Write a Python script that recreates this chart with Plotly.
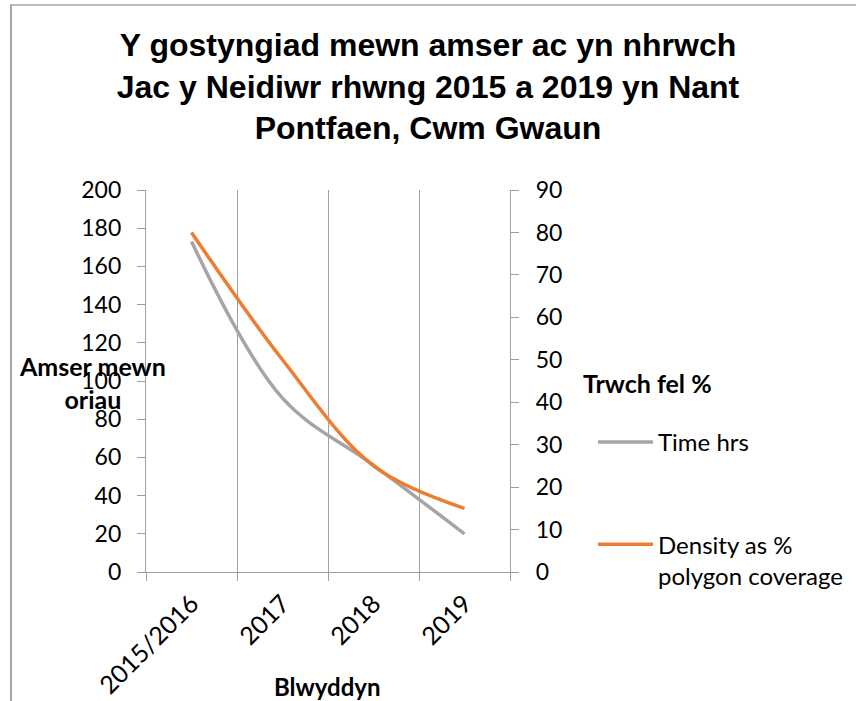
import plotly.graph_objects as go

categories = ["2015/2016", "2017", "2018", "2019"]
time_hrs = [173, 91, 56, 20]
density_pct = [80, 50, 25, 15]

title_text = "Y gostyngiad mewn amser ac yn nhrwch<br>Jac y Neidiwr rhwng 2015 a 2019 yn Nant<br>Pontfaen, Cwm Gwaun"
series_names = ["Time hrs", "Density as %<br>polygon coverage"]

W, H = 856, 701
L, R, T, B = 146, 346, 190, 129
pw, ph = W - L - R, H - T - B

def px(x):
    return (x - L) / pw

def py(y):
    return (H - B - y) / ph

tick_font = dict(family="Lato, Calibri, sans-serif", size=23, color="black")
xtick_font = dict(family="Lato, Calibri, sans-serif", size=25, color="black")
axis_grey = "#A0A0A0"

fig = go.Figure()
fig.add_trace(go.Scatter(
    x=categories, y=time_hrs, name=series_names[0], mode="lines",
    line=dict(color="#A5A5A5", width=3.5, shape="spline", smoothing=1.0),
    yaxis="y", legendgroup="a"))
fig.add_trace(go.Scatter(
    x=categories, y=density_pct, name=series_names[1], mode="lines",
    line=dict(color="#ED7D31", width=3.5, shape="spline", smoothing=1.0),
    yaxis="y2", legendgroup="b"))

fig.update_layout(
    width=W, height=H,
    margin=dict(l=L, r=R, t=T, b=B, autoexpand=False),
    paper_bgcolor="white", plot_bgcolor="white",
    title=dict(text=title_text, xref="container", x=0.5, xanchor="center",
               yref="container", y=1 - 56 / H, yanchor="top",
               font=dict(family="Liberation Sans, Arial, sans-serif", size=32,
                         color="black", weight="bold")),
    xaxis=dict(type="category", tickson="boundaries", showgrid=True, gridcolor=axis_grey,
               gridwidth=1.3, showline=True, linecolor=axis_grey, linewidth=1.3,
               ticks="outside", ticklen=8, tickcolor=axis_grey, tickangle=-45,
               tickfont=xtick_font, ticklabelstandoff=6, range=[-0.5, 3.5],
               automargin=False),
    yaxis=dict(range=[0, 200], dtick=20, showgrid=False, zeroline=False, showline=True,
               linecolor=axis_grey, linewidth=1.3, ticks="outside", ticklen=8,
               tickcolor=axis_grey, tickfont=tick_font, ticklabelstandoff=11,
               automargin=False),
    yaxis2=dict(range=[0, 90], dtick=10, overlaying="y", side="right", showgrid=False,
                zeroline=False, showline=True, linecolor=axis_grey, linewidth=1.3,
                ticks="outside", ticklen=8, tickcolor=axis_grey, tickfont=tick_font,
                ticklabelstandoff=12, automargin=False),
    legend=dict(x=px(593), xanchor="left", y=py(420), yanchor="top",
                font=dict(family="Lato, Calibri, sans-serif", size=24, color="black"),
                tracegroupgap=68, valign="top", itemwidth=55, bgcolor="rgba(0,0,0,0)"),
    showlegend=True,
)

bold_font = dict(family="Lato, Calibri, sans-serif", size=25, color="black", weight="bold")
fig.add_annotation(text="Amser mewn<br>oriau", xref="paper", yref="paper",
                   x=px(92), y=py(382), xanchor="center", yanchor="middle",
                   showarrow=False, font=bold_font, align="center")
fig.add_annotation(text="Trwch fel %", xref="paper", yref="paper",
                   x=px(647), y=py(383), xanchor="center", yanchor="middle",
                   showarrow=False, font=bold_font)
fig.add_annotation(text="Blwyddyn", xref="paper", yref="paper",
                   x=px(327), y=py(686), xanchor="center", yanchor="middle",
                   showarrow=False, font=dict(bold_font, size=24))

# chart frame (top and left edges visible)
fig.add_shape(type="line", xref="paper", yref="paper", x0=px(10), x1=px(856),
              y0=py(5), y1=py(5), line=dict(color="#A6A6A6", width=1.5))
fig.add_shape(type="line", xref="paper", yref="paper", x0=px(11), x1=px(11),
              y0=py(5), y1=py(701), line=dict(color="#A6A6A6", width=2))

fig.write_html("out.html", config={"displayModeBar": False},
               post_script="document.body.style.margin='0';")
